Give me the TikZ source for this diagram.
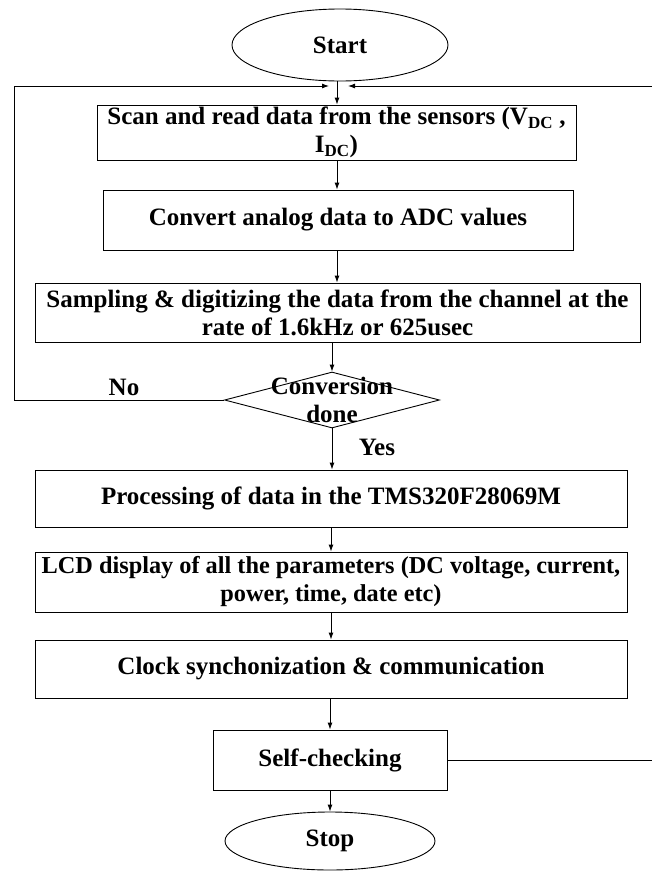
\documentclass[tikz,border=0pt]{standalone}
\usepackage{fontspec}
\setmainfont{Liberation Serif}
\usetikzlibrary{shapes.geometric,arrows.meta}
\tikzset{
  every picture/.style={line width=0.9pt},
  txt/.style={font=\bfseries\fontsize{25}{28}\selectfont, align=center},
  procbox/.style={draw, rectangle, txt, inner sep=0pt},
  termbox/.style={draw, ellipse, txt, inner sep=0pt},
  flow/.style={-{Latex[length=7pt,width=5pt]}},
}
\newcommand{\sbs}[1]{\textsubscript{\fontsize{17}{17}\selectfont #1}}
\begin{document}
\begin{tikzpicture}[x=1pt,y=-1pt]
  \useasboundingbox (0,0) rectangle (651,873);

  % terminals and process steps
  \node[termbox, minimum width=216, minimum height=72] (start) at (340,45) {Start};
  \node[procbox, minimum width=479, minimum height=55] (scan) at (336.5,132.5)
    {Scan and read data from the sensors (V\sbs{DC} ,\\ I\sbs{DC})};
  \node[procbox, minimum width=470, minimum height=60] (conv) at (338,220)
    {Convert analog data to ADC values};
  \node[procbox, minimum width=605, minimum height=59] (samp) at (337.5,312.5)
    {Sampling \& digitizing the data from the channel at the\\ rate of 1.6kHz or 625usec};
  \node[draw, diamond, minimum width=215, minimum height=56, inner sep=0pt] (dec) at (332,400) {};
  \node[txt] (dectxt) at (dec) {Conversion\\ done};
  \node[procbox, minimum width=592, minimum height=57] (proc) at (331,498.5)
    {Processing of data in the TMS320F28069M};
  \node[procbox, minimum width=592, minimum height=60,
        font=\bfseries\fontsize{24.3}{28}\selectfont] (lcd) at (331,582)
    {LCD display of all the parameters (DC voltage, current,\\ power, time, date etc)};
  \node[procbox, minimum width=592, minimum height=58] (clk) at (331,669)
    {Clock synchonization \& communication};
  \node[procbox, minimum width=234, minimum height=60] (self) at (330,760)
    {Self-checking};
  \node[termbox, minimum width=210, minimum height=58] (stop) at (330,841) {Stop};

  % branch labels
  \node[txt] (no) at (124,387) {No};
  \node[txt] (yes) at (377,447) {Yes};

  % loop-back joints
  \coordinate (join) at (337,86);
  \coordinate (lcorner) at (14,400);
  \coordinate (ltop) at (14,86);
  \coordinate (rcorner) at (652,760);
  \coordinate (rtop) at (652,86);

  % main flow
  \draw[flow] (start.south -| join) -- (scan.north -| join);
  \draw[flow] (scan.south -| join) -- (conv.north -| join);
  \draw[flow] (conv.south -| join) -- (samp.north -| join);
  \draw[flow] (samp.south -| dec) -- (dec.north);
  \draw[flow] (dec.south) -- (proc.north -| dec);
  \draw[flow] (proc.south -| proc) -- (lcd.north);
  \draw[flow] (lcd.south) -- (clk.north);
  \draw[flow] (clk.south -| self) -- (self.north);
  \draw[flow] (self.south) -- (stop.north);

  % feedback paths
  \draw[flow] (dec.west) -- (lcorner) -- (ltop) -- ([xshift=-8pt]join);
  \draw[flow] (self.east) -- (rcorner) -- (rtop) -- ([xshift=11pt]join);
\end{tikzpicture}
\end{document}
